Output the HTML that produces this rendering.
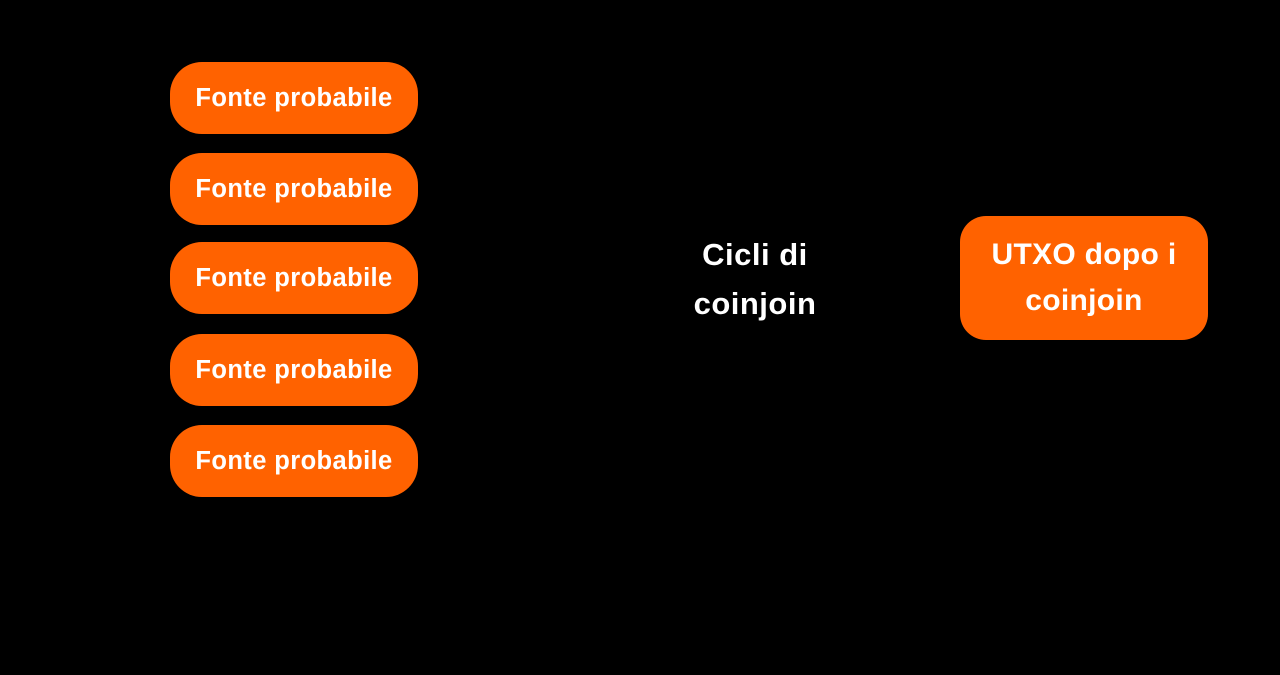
<!DOCTYPE html>
<html><head><style>
html,body{margin:0;padding:0;background:#000;width:1280px;height:675px;overflow:hidden}
.b{position:absolute;background:#ff6200;color:#fff;font-family:"Liberation Sans",sans-serif;font-weight:bold;display:flex;align-items:center;justify-content:center;text-align:center}
.s{left:170px;width:248px;height:72px;border-radius:32px;font-size:25.5px;letter-spacing:0.4px}
.t{position:absolute;color:#fff;font-family:"Liberation Sans",sans-serif;font-weight:bold;font-size:31px;text-align:center;line-height:49px}
</style></head><body>
<div class="b s" style="top:62px">Fonte probabile</div>
<div class="b s" style="top:153px">Fonte probabile</div>
<div class="b s" style="top:242px">Fonte probabile</div>
<div class="b s" style="top:334px">Fonte probabile</div>
<div class="b s" style="top:425px">Fonte probabile</div>
<div class="t" style="left:655px;width:200px;top:230px;letter-spacing:0.5px">Cicli di<br>coinjoin</div>
<div class="b" style="left:960px;top:216px;width:248px;height:124px;border-radius:26px;font-size:30px;line-height:46px;letter-spacing:0.3px">UTXO dopo i<br>coinjoin</div>
</body></html>
